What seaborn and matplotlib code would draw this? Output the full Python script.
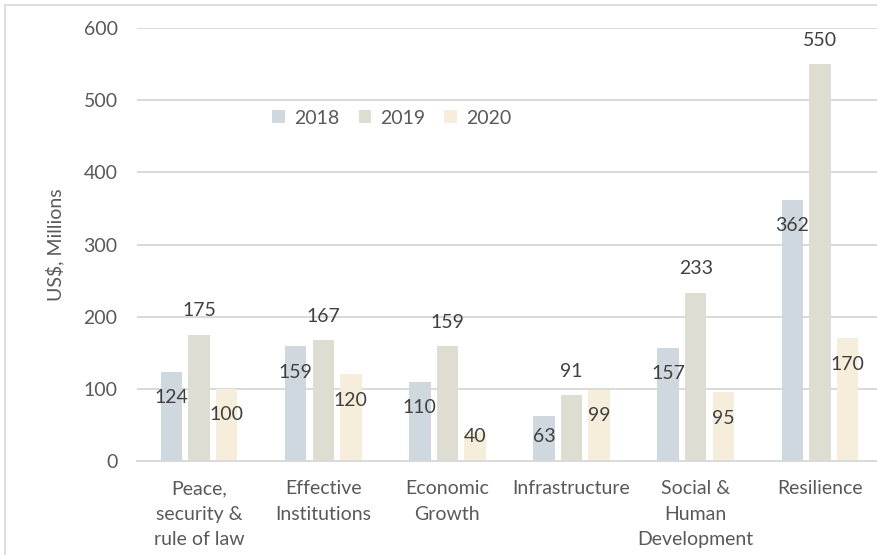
import numpy as np
import pandas as pd
import seaborn as sns
from matplotlib import pyplot as plt
from matplotlib.patches import Rectangle

# Chart data
categories = ['Peace,\nsecurity &\nrule of law', 'Effective\nInstitutions', 'Economic\nGrowth',
              'Infrastructure', 'Social &\nHuman\nDevelopment', 'Resilience']
years = ['2018', '2019', '2020']
values_2018 = [124, 159, 110, 63, 157, 362]
values_2019 = [175, 167, 159, 91, 233, 550]
values_2020 = [100, 120, 40, 99, 95, 170]
colors = ['#CDD8E2', '#E0DED0', '#FBEED6']

df = pd.DataFrame({
    'category': categories * 3,
    'year': [y for y in years for _ in categories],
    'value': values_2018 + values_2019 + values_2020,
})

sns.set_style('white')
plt.rcParams['font.family'] = ['Lato', 'DejaVu Sans']

fig = plt.figure(figsize=(8.78, 5.55), dpi=100)
ax = fig.add_axes([137 / 878, 94 / 555, 745 / 878, 433 / 555])

sns.barplot(data=df, x='category', y='value', hue='year', palette=colors,
            width=0.665, gap=0.22, linewidth=0, ax=ax, legend=True)

ax.set_ylim(0, 600)
ax.set_xlim(-0.5, 5.5)
ax.set_yticks(range(0, 601, 100))
ax.yaxis.grid(True, color='#D9D9D9', linewidth=1.4)
ax.set_axisbelow(True)
for s in ['top', 'right', 'left']:
    ax.spines[s].set_visible(False)
ax.spines['bottom'].set_color('#D9D9D9')
ax.spines['bottom'].set_linewidth(1.4)
ax.tick_params(axis='both', length=0, labelsize=14, colors='#595959')
ax.tick_params(axis='x', pad=14)
ax.tick_params(axis='y', pad=14)
for lbl in ax.get_xticklabels():
    lbl.set_linespacing(1.6)
    lbl.set_verticalalignment('top')
ax.set_xlabel('')
ax.set_ylabel('US$, Millions', fontsize=14, color='#595959', labelpad=14)

# data labels: 2018/2020 inside top of bar, 2019 above bar
upp = 600 / (ax.get_position().height * fig.get_figheight() * fig.dpi)
series = [values_2018, values_2019, values_2020]
for i, cont in enumerate(ax.containers):
    for bar, v in zip(cont, series[i]):
        xc = bar.get_x() + bar.get_width() / 2
        if i == 1:
            yl = v + 24 * upp
        else:
            yl = max(v - 26 * upp, 24 * upp)
        ax.text(xc, yl, str(v), ha='center', va='center', fontsize=14, color='#404040')

ax.legend(loc='center', bbox_to_anchor=(0.342, 0.792), ncol=3, frameon=False,
          fontsize=14, handlelength=0.65, handleheight=0.65, handletextpad=0.45,
          columnspacing=1.0, labelcolor='#595959')

# outer chart border
fig.patches.append(Rectangle((5 / 878, -0.1), 1.2, 1.1 - 5 / 555,
                             transform=fig.transFigure, fill=False,
                             edgecolor='#D9D9D9', linewidth=1.2))

fig.savefig('out.png', dpi=100)
